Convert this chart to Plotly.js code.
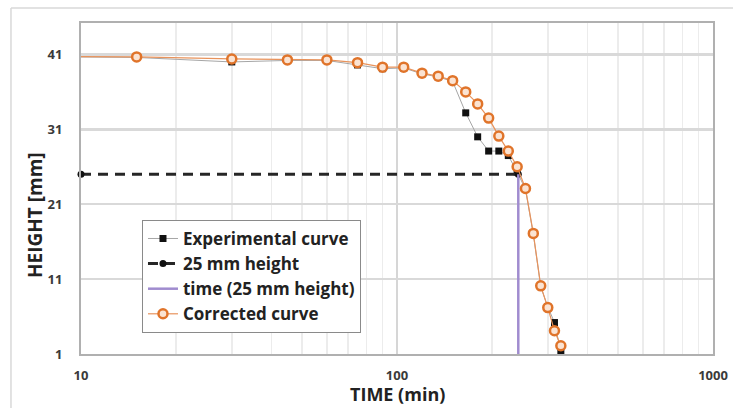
<!DOCTYPE html>
<html>
<head>
<meta charset="utf-8">
<script src="https://cdn.plot.ly/plotly-3.0.1.min.js"></script>
<style>html,body{margin:0;padding:0;background:#fff;}#chart{width:733px;height:408px;}</style>
</head>
<body>
<div id="chart"></div>
<script>
// Data
const timeMin = [1, 15, 30, 45, 60, 75, 90, 105, 120, 135, 150, 165, 180, 195, 210, 225, 240, 255, 270, 285, 300, 315, 330];
const experimentalHeight = [41, 40.6, 40.0, 40.2, 40.2, 39.6, 39.1, 39.2, 38.4, 38.0, 37.4, 33.2, 30.0, 28.1, 28.1, 27.5, 25.3, 23.0, 17.0, 10.0, 7.3, 5.2, 1.3];
const correctedHeight = [41, 40.67, 40.4, 40.27, 40.27, 39.9, 39.3, 39.3, 38.5, 38.1, 37.5, 36.0, 34.4, 32.5, 30.1, 28.1, 26.0, 23.1, 17.1, 10.1, 7.2, 4.1, 2.1];
const refHeightX = [10, 242];
const refHeightY = [25, 25];
const refTimeX = [242, 242];
const refTimeY = [1, 25];
const yTicks = [1, 11, 21, 31, 41];
const xTicks = [10, 100, 1000];

const FONT = '"Open Sans", Lato, sans-serif';
const TXT = '#3a3a3a';

const traces = [
  {
    x: timeMin, y: experimentalHeight, name: 'Experimental curve',
    mode: 'lines+markers', type: 'scatter',
    line: {color: '#a6a6a6', width: 1},
    marker: {symbol: 'square', color: '#111', size: 7}
  },
  {
    x: refHeightX, y: refHeightY, name: '25 mm height',
    mode: 'lines+markers', type: 'scatter', cliponaxis: false,
    line: {color: '#262626', width: 3, dash: '10px,7px'},
    marker: {symbol: 'circle', color: '#111', size: 7}
  },
  {
    x: refTimeX, y: refTimeY, name: 'time (25 mm height)',
    mode: 'lines', type: 'scatter',
    line: {color: '#a08ccf', width: 2.5}
  },
  {
    x: timeMin, y: correctedHeight, name: 'Corrected curve',
    mode: 'lines+markers', type: 'scatter',
    line: {color: '#e8935c', width: 1.2},
    marker: {symbol: 'circle', color: '#fbe3d2', size: 9, line: {color: '#e0742a', width: 2.5}}
  }
];

const layout = {
  width: 733, height: 408,
  margin: {l: 81, r: 20, t: 23, b: 54},
  paper_bgcolor: '#fff', plot_bgcolor: '#fff',
  showlegend: true,
  font: {family: FONT, color: TXT},
  xaxis: {
    type: 'log', range: [1, 3],
    tickvals: xTicks, ticktext: xTicks.map(String),
    tickfont: {family: FONT, size: 13, color: TXT, weight: 'bold'},
    ticklabelstandoff: 8,
    showgrid: true, gridcolor: '#d6d6d6', gridwidth: 1.5,
    minor: {showgrid: true, gridcolor: '#ececec', gridwidth: 1.5, dtick: 'D1'},
    showline: true, linecolor: '#b0b0b0', linewidth: 2, mirror: true,
    zeroline: false, ticks: ''
  },
  yaxis: {
    range: [1, 45.2],
    tickvals: yTicks, ticktext: yTicks.map(String),
    tickfont: {family: FONT, size: 13, color: TXT, weight: 'bold'},
    ticklabelstandoff: 14,
    showgrid: true, gridcolor: '#d9d9d9', gridwidth: 2.5,
    showline: true, linecolor: '#b0b0b0', linewidth: 2, mirror: true,
    zeroline: false, ticks: ''
  },
  legend: {
    x: 0.0965, y: 0.405, xanchor: 'left', yanchor: 'top',
    bgcolor: '#ffffff', bordercolor: '#8a8a8a', borderwidth: 1,
    font: {family: FONT, size: 17, color: '#222', weight: 'bold'},
    itemwidth: 30, tracegroupgap: 0
  },
  annotations: [
    {text: 'TIME (min)', xref: 'paper', yref: 'paper', x: 0.5, y: -0.12,
     xanchor: 'center', yanchor: 'middle', showarrow: false,
     font: {family: FONT, size: 18, color: '#222', weight: 'bold'}},
    {text: 'HEIGHT [mm]', xref: 'paper', yref: 'paper', x: -0.0728, y: 0.42,
     xanchor: 'center', yanchor: 'middle', showarrow: false, textangle: -90,
     font: {family: FONT, size: 19, color: '#222', weight: 'bold'}}
  ],
  shapes: [
    {type: 'line', xref: 'paper', yref: 'paper', x0: -0.1108, x1: 1.04, y0: 1.0453, y1: 1.0453,
     line: {color: '#d9d9d9', width: 1.5}, layer: 'below'},
    {type: 'line', xref: 'paper', yref: 'paper', x0: -0.1108, x1: -0.1108, y0: 1.0453, y1: -0.2,
     line: {color: '#d9d9d9', width: 1.5}, layer: 'below'}
  ]
};

Plotly.newPlot('chart', traces, layout, {displayModeBar: false, staticPlot: true});
</script>
</body>
</html>
